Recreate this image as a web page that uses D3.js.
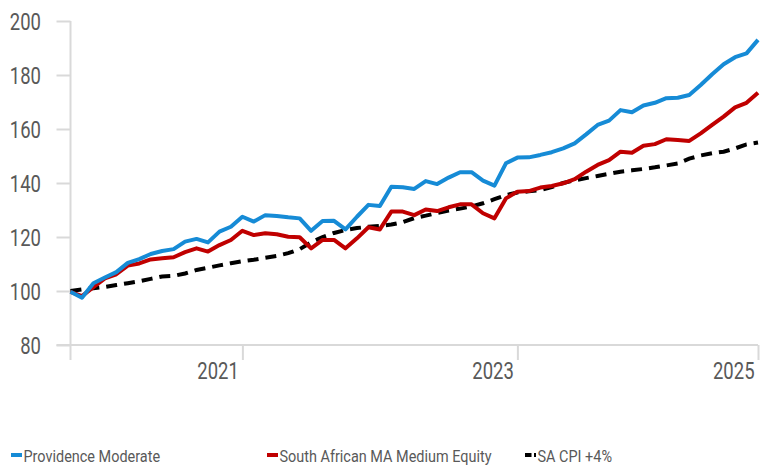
<!DOCTYPE html>
<html lang="en">
<head>
    <meta charset="UTF-8">
    <title>Growth of 100</title>
    <script src="https://cdn.jsdelivr.net/npm/d3@7"></script>
    <style>
        body { margin: 0; background: #fff; }
        text { font-family: Roboto, "Noto Sans", sans-serif; fill: #595959; }
    </style>
</head>
<body>
<div id="chart"></div>

<script>
    // monthly index, 61 points
    var months = d3.range(0, 61);

    var providence = [99.7, 97.5, 102.9, 105, 107, 110.4, 111.8, 113.7, 114.8, 115.5,
        118.3, 119.3, 118, 122, 123.8, 127.5, 125.7, 128.1, 127.8, 127.3,
        126.9, 122.3, 125.9, 126, 122.8, 127.5, 131.9, 131.5, 138.6, 138.4,
        137.8, 140.7, 139.6, 142, 144, 144, 140.9, 139, 147.3, 149.4,
        149.5, 150.4, 151.4, 152.8, 154.7, 158, 161.5, 163.1, 167, 166.2,
        168.7, 169.7, 171.4, 171.6, 172.6, 176.3, 180.3, 184, 186.6, 188, 193];

    var maMediumEquity = [99.7, 98.1, 101.4, 104.7, 106.2, 109.4, 110.2, 111.7, 112.1, 112.5,
        114.4, 115.8, 114.6, 117, 118.9, 122.3, 120.7, 121.4, 121, 120.1,
        119.9, 115.8, 118.9, 118.9, 115.8, 119.5, 123.6, 122.8, 129.4, 129.4,
        128.1, 130.2, 129.6, 131, 132.1, 132.1, 128.8, 126.9, 134.3, 136.8,
        137, 138.3, 138.9, 139.9, 141.4, 144.2, 146.7, 148.5, 151.6, 151.2,
        153.8, 154.4, 156.2, 155.9, 155.6, 158.4, 161.5, 164.6, 168, 169.7, 173.4];

    var cpiPlus4 = [100, 100.6, 101, 101.5, 102.2, 102.9, 103.6, 104.5, 105.4, 105.6,
        106.5, 107.8, 108.6, 109.5, 110.3, 111, 111.6, 112.3, 113, 114,
        115.5, 118, 120, 121.5, 122.6, 123.3, 123.8, 124.1, 124.6, 125.5,
        127, 127.9, 128.9, 129.8, 130.5, 131.3, 132.5, 134, 135.5, 136.5,
        136.9, 137.4, 138.5, 140, 141, 141.8, 142.6, 143.4, 144.2, 144.7,
        145.2, 145.8, 146.5, 147.2, 149, 150.2, 151, 151.6, 152.8, 154.3, 155];

    var yTicks = [80, 100, 120, 140, 160, 180, 200];
    var xTickPos = [15, 39, 60];
    var xTickLabels = ["2021", "2023", "2025"];

    var seriesNames = ["Providence Moderate", "South African MA Medium Equity", "SA CPI +4%"];
    var seriesColors = ["#168bd6", "#c00000", "#000000"];

    var width = 760, height = 466;
    var margin = {top: 21, right: 2, bottom: 121, left: 70.5};

    // condensed look: no condensed font installed, so squeeze horizontally
    var numSqueeze = 0.77, legSqueeze = 0.85;

    var svg = d3.select("#chart")
        .append("svg")
        .attr("width", width)
        .attr("height", height);

    var x = d3.scaleLinear()
        .domain([0, 60])
        .range([margin.left, width - margin.right]);

    var y = d3.scaleLinear()
        .domain([80, 200])
        .range([height - margin.bottom, margin.top]);

    var gridColor = "#d9d9d9";

    // y axis
    var yAxis = svg.append("g")
        .attr("transform", "translate(" + margin.left + ",0)")
        .call(d3.axisLeft(y).tickValues(yTicks).tickSize(14).tickPadding(15));
    yAxis.select(".domain").remove();
    yAxis.selectAll(".tick line").attr("stroke", gridColor).attr("stroke-width", 2);
    yAxis.selectAll(".tick text")
        .style("font-size", "24px")
        .attr("x", -29.5 / numSqueeze)
        .attr("transform", "scale(" + numSqueeze + ",1)")
        .attr("dy", "0.36em");

    svg.append("line")
        .attr("x1", margin.left).attr("x2", margin.left)
        .attr("y1", y(200)).attr("y2", y(80) + 15)
        .attr("stroke", gridColor).attr("stroke-width", 2);

    // x axis
    var xAxis = svg.append("g")
        .attr("transform", "translate(0," + y(80) + ")")
        .call(d3.axisBottom(x).tickValues(xTickPos).tickSize(15)
            .tickFormat(function(d, i) { return xTickLabels[i]; }));
    xAxis.select(".domain").remove();
    xAxis.selectAll(".tick line").attr("stroke", gridColor).attr("stroke-width", 2);
    xAxis.selectAll(".tick text")
        .style("font-size", "24px")
        .attr("text-anchor", "end")
        .attr("x", -4 / numSqueeze)
        .attr("transform", "scale(" + numSqueeze + ",1)")
        .attr("y", 17)
        .attr("dy", "0.71em");

    svg.append("line")
        .attr("x1", margin.left - 14).attr("x2", x(60))
        .attr("y1", y(80)).attr("y2", y(80))
        .attr("stroke", gridColor).attr("stroke-width", 2);

    // lines
    var line = d3.line()
        .x(function(d, i) { return x(months[i]); })
        .y(function(d) { return y(d); });

    svg.append("path")
        .datum(cpiPlus4)
        .attr("fill", "none")
        .attr("stroke", seriesColors[2])
        .attr("stroke-width", 4)
        .attr("stroke-dasharray", "11,7")
        .attr("d", line);

    svg.append("path")
        .datum(maMediumEquity)
        .attr("fill", "none")
        .attr("stroke", seriesColors[1])
        .attr("stroke-width", 4)
        .attr("stroke-linejoin", "round")
        .attr("d", line);

    svg.append("path")
        .datum(providence)
        .attr("fill", "none")
        .attr("stroke", seriesColors[0])
        .attr("stroke-width", 4)
        .attr("stroke-linejoin", "round")
        .attr("d", line);

    // legend
    var legendX = [11, 267, 525];
    var legend = svg.selectAll("g.legend")
        .data(seriesNames)
        .enter().append("g")
        .attr("class", "legend")
        .attr("transform", function(d, i) { return "translate(" + legendX[i] + ",453)"; });

    legend.each(function(d, i) {
        var g = d3.select(this);
        if (i < 2) {
            g.append("rect")
                .attr("width", 11).attr("height", 4)
                .attr("fill", seriesColors[i]);
        } else {
            g.append("rect").attr("width", 6.5).attr("height", 4).attr("fill", "#000");
            g.append("rect").attr("x", 9).attr("width", 2).attr("height", 4).attr("fill", "#000");
        }
        g.append("text")
            .attr("x", 12.5 / legSqueeze)
            .attr("y", 8.5)
            .attr("transform", "scale(" + legSqueeze + ",1)")
            .style("font-size", "17px")
            .text(d);
    });
</script>
</body>
</html>
